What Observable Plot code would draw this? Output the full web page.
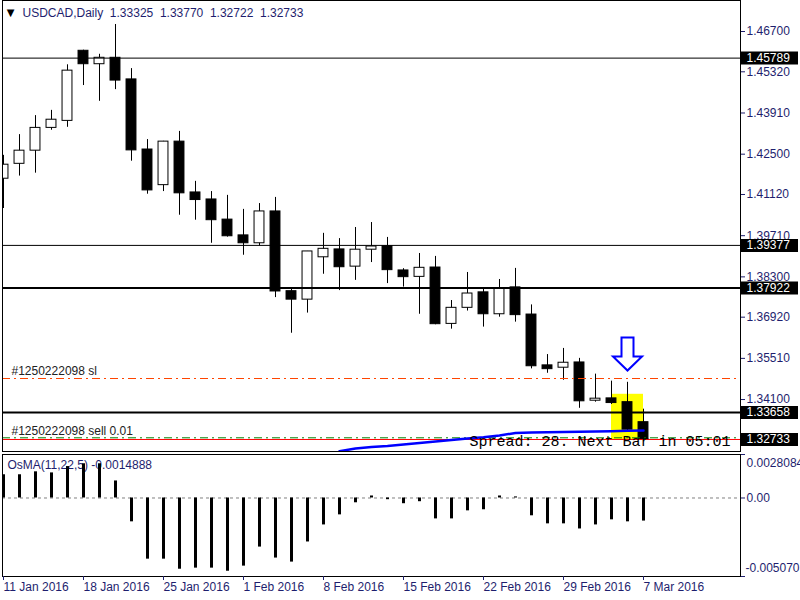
<!DOCTYPE html>
<html><head><meta charset="utf-8">
<script src="https://cdn.jsdelivr.net/npm/d3@7"></script>
<script src="https://cdn.jsdelivr.net/npm/@observablehq/plot@0.6"></script>
<style>
html,body{margin:0;padding:0;background:#fff;overflow:hidden}
#chart{position:relative;width:800px;height:600px;overflow:hidden;background:#fff}
#chart svg{position:absolute;left:0}
</style></head><body><div id="chart"></div>
<script>
// ---------- data ----------
const symbolName = "USDCAD,Daily";
const lastQuote = ["1.33325", "1.33770", "1.32722", "1.32733"];

const open  = [1.4166,1.4217,1.4262,1.4340,1.4364,1.4604,1.4558,1.4580,1.4506,1.4266,1.4144,1.4293,1.4119,1.4095,1.4026,1.3972,1.3945,1.4054,1.3781,1.3752,1.3897,1.3924,1.3865,1.3923,1.3935,1.3852,1.3830,1.3862,1.3669,1.3724,1.3777,1.3702,1.3794,1.3701,1.3527,1.3519,1.3537,1.3406,1.3414,1.3401,1.33325];
const high  = [1.4246,1.4317,1.4382,1.4400,1.4556,1.4606,1.4592,1.4694,1.4543,1.4300,1.4294,1.4328,1.4157,1.4122,1.4109,1.4061,1.4081,1.4102,1.3790,1.3917,1.3979,1.3961,1.3999,1.4016,1.3965,1.3858,1.3910,1.3900,1.3749,1.3845,1.3790,1.3821,1.3859,1.3734,1.3564,1.3585,1.3551,1.3497,1.3473,1.3469,1.33770];
const low   = [1.4064,1.4175,1.4185,1.4332,1.4342,1.4485,1.4431,1.4471,1.4226,1.4113,1.4122,1.4041,1.4024,1.3945,1.3966,1.3904,1.3936,1.3759,1.3637,1.3706,1.3839,1.3783,1.3818,1.3879,1.3807,1.3795,1.3702,1.3666,1.3651,1.3713,1.3658,1.3692,1.3675,1.3515,1.3500,1.3476,1.3380,1.3401,1.3393,1.3301,1.32722];
const close = [1.4214,1.4262,1.4340,1.4368,1.4536,1.4558,1.4580,1.4502,1.4263,1.4126,1.4293,1.4116,1.4093,1.4024,1.3969,1.3945,1.4054,1.3780,1.3752,1.3917,1.3926,1.3863,1.3923,1.3934,1.3853,1.3829,1.3861,1.3668,1.3724,1.3773,1.3702,1.3791,1.3699,1.3524,1.3514,1.3536,1.3404,1.3413,1.3398,1.3307,1.32733];

const osma = [0.00150,0.00150,0.00169,0.00162,0.00203,0.00221,0.00221,0.00110,-0.00154,-0.00395,-0.00395,-0.00460,-0.00453,-0.00453,-0.00473,-0.00440,-0.00317,-0.00388,-0.00414,-0.00284,-0.00174,-0.00109,-0.00031,0.00013,-0.00011,-0.00037,-0.00024,-0.00135,-0.00135,-0.00083,-0.00076,0.00013,0.00007,-0.00115,-0.00167,-0.00167,-0.00200,-0.00174,-0.00141,-0.00154,-0.00149];
const osmaMax = 0.0028084;
const osmaMin = -0.005070;
const osmaScaleLabels = ["0.0028084", "0.00", "-0.005070"];
const osmaLabel = "OsMA(11,22,5) -0.0014888";

const blueStart = 21;
const blueLine = [1.32331,1.32424,1.32475,1.32509,1.32561,1.32612,1.32664,1.32715,1.32766,1.32811,1.32869,1.32955,1.32972,1.32982,1.32989,1.32996,1.33006,1.33016,1.33030,1.33040];

const weekTickIdx = [0, 5, 10, 15, 20, 25, 30, 35, 40];
const weekLabels = ["11 Jan 2016","18 Jan 2016","25 Jan 2016","1 Feb 2016","8 Feb 2016","15 Feb 2016","22 Feb 2016","29 Feb 2016","7 Mar 2016"];

const priceTicks = [1.46700,1.45320,1.43910,1.42500,1.41120,1.39710,1.38300,1.36920,1.35510,1.34100];
const thinLevels = [1.45789, 1.39377];
const thickLevels = [1.37922, 1.33658];
const bidPrice = 1.32733;
const boxedPrices = [1.45789, 1.39377, 1.37922, 1.33658, 1.32733];

const orderTicket = "#1250222098";
const slPrice = 1.3482;
const openPrice = 1.3279;
const orderTexts = [orderTicket + " sl", orderTicket + " sell 0.01"];
const orderPrices = [slPrice, openPrice];

const signalBar = 39;
const signalPrice = 1.35659;
const zoneBars = [38, 40];
const zonePrices = [1.3270, 1.3428];
const spreadText = "Spread: 28. Next Bar in 05:01";

// ---------- build ----------
const navy = "#1e1e6e";
const font = "'Liberation Sans', Arial, sans-serif";
const candles = open.map((o, i) => ({i, o, h: high[i], l: low[i], c: close[i], up: close[i] >= o}));
const blueData = blueLine.map((v, k) => ({i: blueStart + k, v}));
const osmaData = osma.map((v, i) => ({i, v}));
const xDomain = [-1 / 16, 737 / 16];

const arrowSymbol = {
  draw(ctx) {
    ctx.moveTo(-6, -16.5); ctx.lineTo(6, -16.5); ctx.lineTo(6, 2.5); ctx.lineTo(14.5, 2.5);
    ctx.lineTo(0, 16.5); ctx.lineTo(-14.5, 2.5); ctx.lineTo(-6, 2.5); ctx.closePath();
  }
};

const main = Plot.plot({
  width: 800, height: 452,
  marginLeft: 2, marginRight: 60, marginTop: 0, marginBottom: 1,
  x: {domain: xDomain, axis: null},
  y: {domain: [1.467 - 420 / 2921, 1.467 + 31 / 2921], axis: null},
  style: {fontFamily: font, fontSize: "12px", background: "white", overflow: "visible"},
  marks: [
    Plot.rect([0], {x1: () => zoneBars[0], x2: () => zoneBars[1], y1: () => zonePrices[0], y2: () => zonePrices[1], fill: "#FFFF00"}),
    Plot.ruleX(candles, {x: "i", y1: "l", y2: "h", stroke: "black", clip: true}),
    Plot.rect(candles, {x1: d => d.i - 0.31, x2: d => d.i + 0.31, y1: "o", y2: "c", fill: d => d.up ? "white" : "black", stroke: "black", clip: true}),
    Plot.ruleY(thinLevels, {stroke: "black", strokeWidth: 1}),
    Plot.ruleY(thickLevels, {stroke: "black", strokeWidth: 2}),
    Plot.ruleY([slPrice], {stroke: "#FF4500", strokeDasharray: "8,4,2,4"}),
    Plot.ruleY([openPrice], {stroke: "#008000", strokeDasharray: "8,4,2,4"}),
    Plot.ruleY([bidPrice], {stroke: "#FF0000"}),
    Plot.line(blueData, {x: "i", y: "v", stroke: "#0000FF", strokeWidth: 2.5, clip: true}),
    Plot.text(orderTexts, {y: (d, k) => orderPrices[k], text: d => d, frameAnchor: "left", dx: 9, dy: -7, textAnchor: "start", fill: "#222", fontSize: 12}),
    Plot.text([spreadText], {frameAnchor: "bottom-right", dx: -10, dy: -10, textAnchor: "end", lineAnchor: "middle", fontFamily: "'Liberation Mono', 'Courier New', monospace", fontSize: 15, fill: "black"}),
    Plot.dot([0], {x: () => signalBar, y: () => signalPrice, symbol: arrowSymbol, r: 5, fill: "white", stroke: "#0000FF", strokeWidth: 2}),
    Plot.text(["\u25BC"], {frameAnchor: "top-left", dx: 8, dy: 12, textAnchor: "middle", lineAnchor: "middle", fontSize: 10, fill: "black", fontFamily: "'DejaVu Sans'"}),
    Plot.text([symbolName + "  " + lastQuote.join("  ")], {frameAnchor: "top-left", dx: 20, dy: 12.5, textAnchor: "start", lineAnchor: "middle", fill: navy, fontSize: 12}),
    Plot.frame({stroke: "black"}),
    Plot.axisY(priceTicks, {anchor: "right", tickSize: 4, tickPadding: 2, tickFormat: d3.format(".5f"), color: navy, fontSize: 12, label: null}),
    Plot.ruleY(boxedPrices, {stroke: "black", strokeWidth: 13, insetLeft: 739, insetRight: -58}),
    Plot.text(boxedPrices, {y: d => d, text: d => d.toFixed(5), frameAnchor: "right", dx: 6, textAnchor: "start", fill: "white", fontSize: 12})
  ]
});
main.style.top = "0px";

const sub = Plot.plot({
  width: 800, height: 148,
  marginLeft: 2, marginRight: 60, marginTop: 2, marginBottom: 24,
  x: {domain: xDomain, axis: null},
  y: {domain: [osmaMin, osmaMax], axis: null},
  style: {fontFamily: font, fontSize: "12px", background: "white", overflow: "visible"},
  marks: [
    Plot.ruleY([0], {stroke: "#808080", strokeDasharray: "3,3"}),
    Plot.text([osmaLabel], {frameAnchor: "top-left", dx: 5, dy: 11, textAnchor: "start", lineAnchor: "middle", fill: navy, fontSize: 12}),
    Plot.ruleX(osmaData, {x: "i", y1: 0, y2: "v", stroke: "black", strokeWidth: 3, clip: true}),
    Plot.frame({stroke: "black"}),
    Plot.axisY([osmaMax, 0, osmaMin], {anchor: "right", tickSize: 4, tickFormat: () => "", color: navy, label: null}),
    Plot.text([osmaScaleLabels[0]], {frameAnchor: "top-right", dx: 6, dy: 9, textAnchor: "start", lineAnchor: "middle", fill: navy, fontSize: 12}),
    Plot.text([0], {y: d => d, text: () => osmaScaleLabels[1], frameAnchor: "right", dx: 6, textAnchor: "start", lineAnchor: "middle", fill: navy, fontSize: 12}),
    Plot.text([osmaScaleLabels[2]], {frameAnchor: "bottom-right", dx: 5, dy: -8, textAnchor: "start", lineAnchor: "middle", fill: navy, fontSize: 12}),
    Plot.axisX(weekTickIdx, {anchor: "bottom", tickSize: 4, tickPadding: 2, tickFormat: d => weekLabels[weekTickIdx.indexOf(d)], textAnchor: "start", color: navy, fontSize: 12, label: null})
  ]
});
sub.style.top = "452px";

const chart = document.getElementById("chart");
chart.appendChild(main);
chart.appendChild(sub);
</script>
</body></html>
